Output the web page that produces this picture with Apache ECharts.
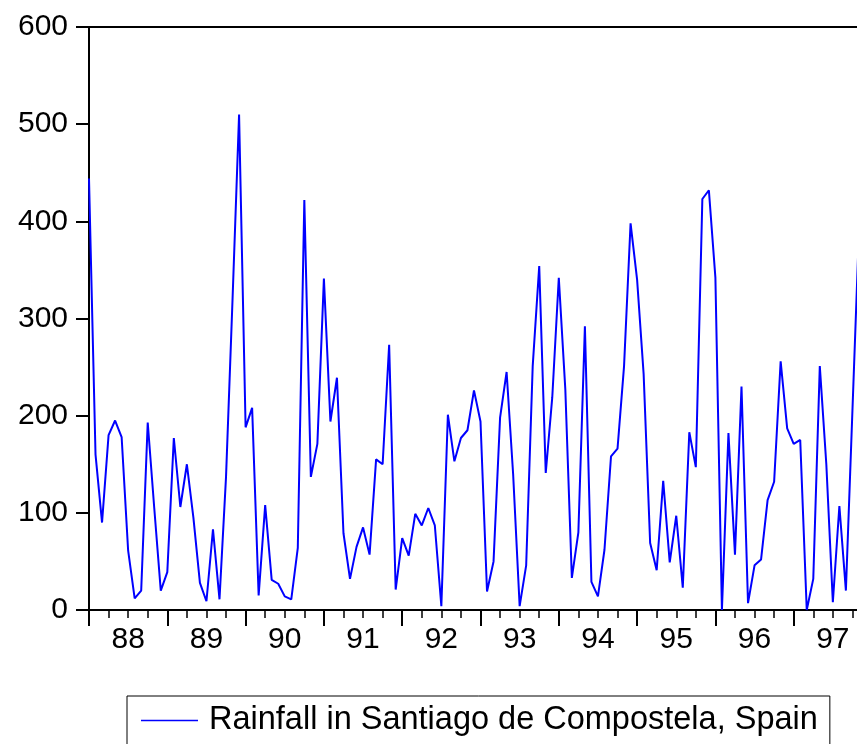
<!DOCTYPE html>
<html>
<head>
<meta charset="utf-8">
<title>Rainfall in Santiago de Compostela, Spain</title>
<script src="https://cdn.jsdelivr.net/npm/echarts@6/dist/echarts.min.js"></script>
<style>
  html, body { margin: 0; padding: 0; background: #fff; }
  #chart { width: 857px; height: 744px; }
</style>
</head>
<body>
<div id="chart"></div>
<script>
// Monthly rainfall (mm), starting January 1988
const rainfall = [
  444, 160, 90, 180, 195, 178, 61, 12, 20, 193, 105, 20,
  39, 177, 106, 150, 95, 28, 9, 83, 11, 137, 320, 510,
  188, 208, 15, 108, 31, 27, 14, 11, 64, 422, 137, 171,
  341, 194, 239, 79, 32, 65, 85, 57, 155, 150, 273, 21,
  74, 56, 99, 87, 105, 87, 4, 201, 153, 177, 185, 226,
  194, 19, 50, 198, 245, 140, 4, 46, 251, 354, 141, 219,
  342, 227, 33, 80, 292, 29, 14, 62, 158, 166, 251, 398,
  340, 243, 69, 41, 133, 49, 97, 23, 183, 147, 423, 432,
  342, 0, 182, 57, 230, 7, 46, 52, 113, 132, 256, 187,
  171, 175, 0, 32, 251, 150, 8, 107, 20, 205, 390
];

// Year labels, one per twelve months
const yearLabels = ['88', '89', '90', '91', '92', '93', '94', '95', '96', '97'];

const seriesName = 'Rainfall in Santiago de Compostela, Spain';

const points = rainfall.map((v, i) => [i, v]);

const font = 'Liberation Sans, Arial, Helvetica, sans-serif';

const chart = echarts.init(document.getElementById('chart'), null, { renderer: 'canvas' });

// The plot frame runs past the right edge of the page, so the grid is
// laid out by width and allowed to overflow.
chart.setOption({
  animation: false,
  backgroundColor: '#ffffff',
  grid: {
    left: 89,
    top: 27,
    width: 783,
    bottom: 134,
    outerBoundsMode: 'none',
    containLabel: false,
    show: false
  },
  legend: {
    left: 127,
    top: 696,
    orient: 'horizontal',
    padding: [8, 12, 16, 14],
    itemWidth: 57,
    itemHeight: 14,
    borderColor: '#000',
    borderWidth: 1,
    borderRadius: 0,
    textStyle: { fontSize: 32.5, fontFamily: font, color: '#000', padding: [0, 0, 0, 6] },
    data: [{ name: seriesName, icon: 'path://M0,0 L57,0 L57,1.6 L0,1.6 Z' }]
  },
  xAxis: [
    {
      type: 'value',
      min: 0,
      max: 120,
      interval: 12,
      axisLine: { show: true, onZero: false, lineStyle: { color: '#000', width: 2 } },
      axisTick: { show: true, length: 16, lineStyle: { color: '#000', width: 2 } },
      minorTick: { show: true, splitNumber: 4, length: 8, lineStyle: { color: '#000', width: 1.5 } },
      axisLabel: { show: false },
      splitLine: { show: false },
      minorSplitLine: { show: false }
    },
    {
      type: 'value',
      min: 0,
      max: 120,
      interval: 6,
      position: 'bottom',
      axisLine: { show: false },
      axisTick: { show: false },
      splitLine: { show: false },
      axisLabel: {
        show: true,
        margin: 15,
        fontSize: 30,
        fontFamily: font,
        color: '#000',
        formatter: function (v) {
          if (v % 12 === 6) {
            const idx = (v - 6) / 12;
            return yearLabels[idx] || '';
          }
          return '';
        }
      }
    },
    {
      // top edge of the frame
      type: 'value',
      min: 0,
      max: 120,
      position: 'top',
      axisLine: { show: true, onZero: false, lineStyle: { color: '#000', width: 2 } },
      axisTick: { show: false },
      axisLabel: { show: false },
      splitLine: { show: false }
    }
  ],
  yAxis: {
    type: 'value',
    min: 0,
    max: 600,
    interval: 100,
    axisLine: { show: true, onZero: false, lineStyle: { color: '#000', width: 2 } },
    axisTick: { show: true, length: 13, lineStyle: { color: '#000', width: 2 } },
    axisLabel: { margin: 21, fontSize: 30, fontFamily: font, color: '#000' },
    splitLine: { show: false }
  },
  series: [
    {
      name: seriesName,
      type: 'line',
      xAxisIndex: 0,
      data: points,
      symbol: 'none',
      showSymbol: false,
      lineStyle: { color: '#0000ff', width: 2 },
      itemStyle: { color: '#0000ff' }
    }
  ]
});
</script>
</body>
</html>
